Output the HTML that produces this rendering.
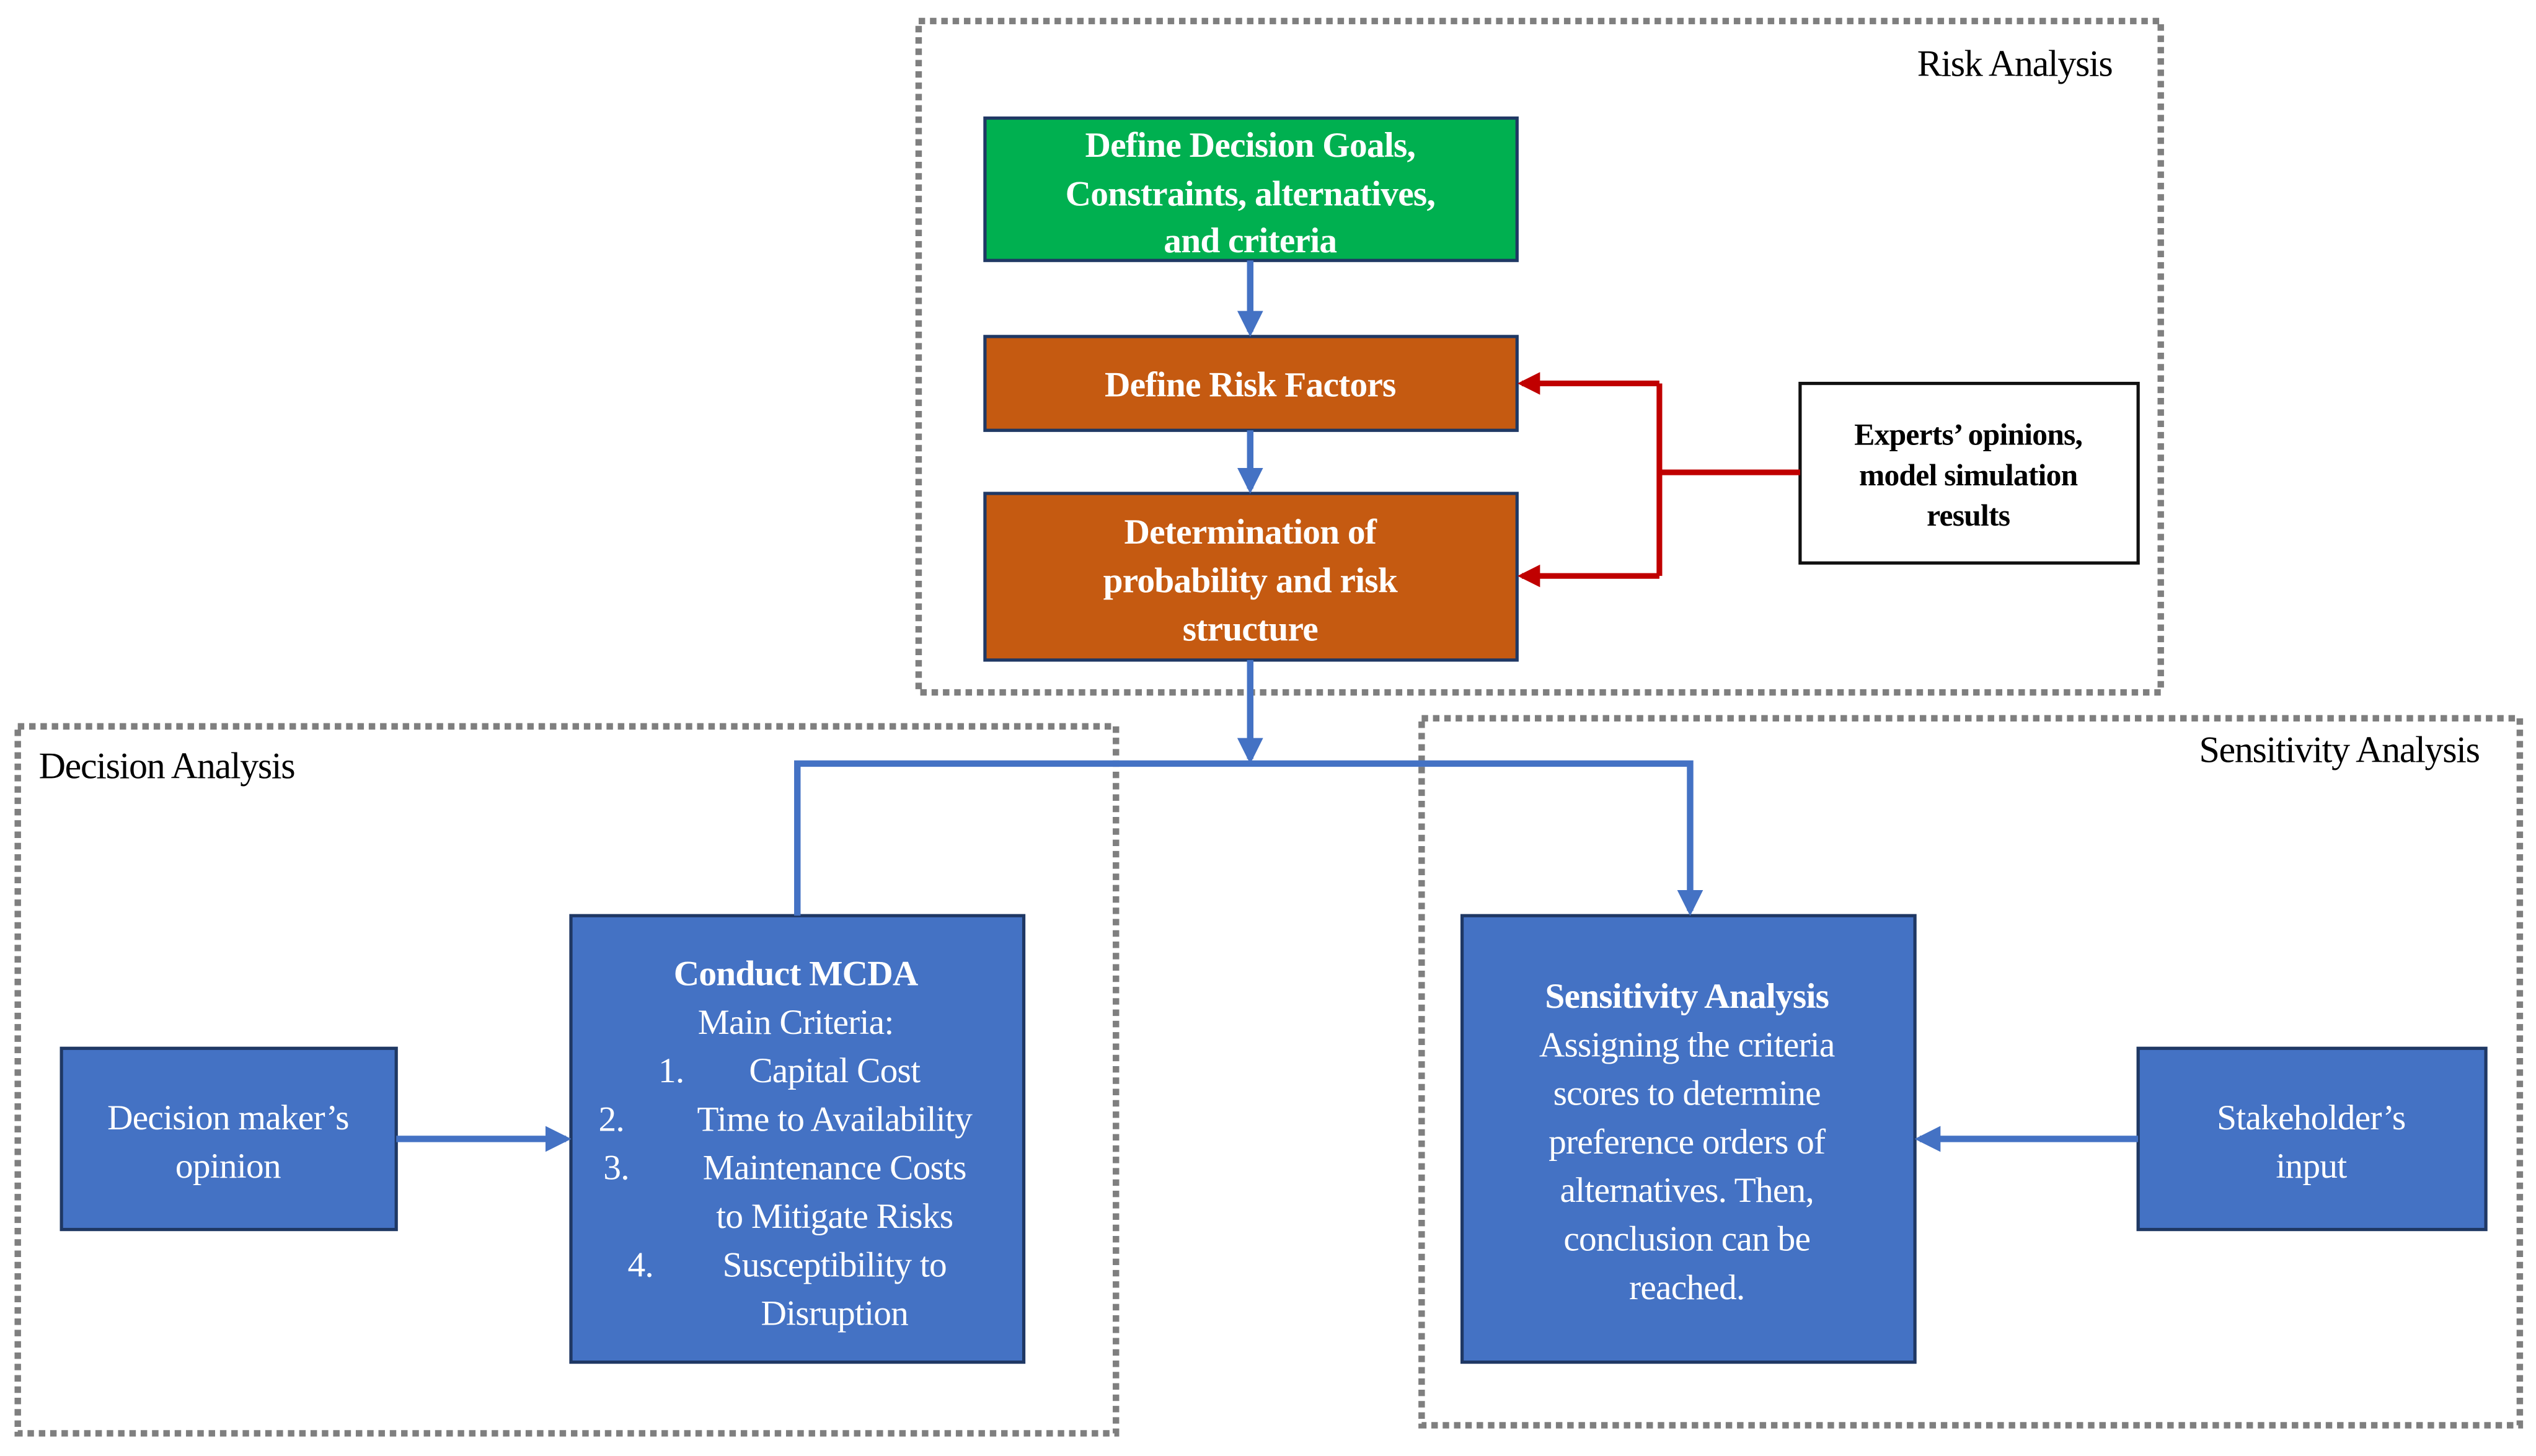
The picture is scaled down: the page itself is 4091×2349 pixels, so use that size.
<!DOCTYPE html>
<html><head><meta charset="utf-8"><style>
html,body{margin:0;padding:0;background:#fff;}
svg{display:block;}
svg text{font-family:"Liberation Serif","Times New Roman",serif !important;}
</style></head><body>
<svg width="4091" height="2349" viewBox="0 0 1568 900" preserveAspectRatio="none" xmlns="http://www.w3.org/2000/svg" font-family="Liberation Serif, serif">
<defs>
<marker id="ab" markerWidth="4" markerHeight="4" refX="3.2" refY="2" orient="auto" markerUnits="strokeWidth"><path d="M0,0 L4,2 L0,4 z" fill="#4472C4"/></marker>
<marker id="ar" markerWidth="4" markerHeight="4" refX="3.2" refY="2" orient="auto" markerUnits="strokeWidth"><path d="M0,0 L4,2 L0,4 z" fill="#C00000"/></marker>
</defs>
<g fill="none" stroke="#7f7f7f" stroke-width="4" stroke-dasharray="4,3">
<rect x="568" y="13" width="768" height="415"/>
<rect x="11" y="449" width="679" height="437"/>
<rect x="879" y="444" width="679" height="437"/>
</g>
<text x="1306" y="47" font-size="23" text-anchor="end" letter-spacing="-0.5">Risk Analysis</text>
<text x="24" y="481" font-size="23" letter-spacing="-0.5">Decision Analysis</text>
<text x="1533" y="471" font-size="23" text-anchor="end" letter-spacing="-0.5">Sensitivity Analysis</text>

<g stroke="#1f3864" stroke-width="2">
<rect x="609" y="73" width="329" height="88" fill="#00B050"/>
<rect x="609" y="208" width="329" height="58" fill="#C55A11"/>
<rect x="609" y="305" width="329" height="103" fill="#C55A11"/>
<rect x="38" y="648" width="207" height="112" fill="#4472C4"/>
<rect x="353" y="566" width="280" height="276" fill="#4472C4"/>
<rect x="904" y="566" width="280" height="276" fill="#4472C4"/>
<rect x="1322" y="648" width="215" height="112" fill="#4472C4"/>
</g>
<rect x="1113" y="237" width="209" height="111" fill="#fff" stroke="#111" stroke-width="2"/>

<g stroke="#4472C4" stroke-width="4" fill="none">
<line x1="773" y1="161" x2="773" y2="205" marker-end="url(#ab)"/>
<line x1="773" y1="266" x2="773" y2="302" marker-end="url(#ab)"/>
<line x1="773" y1="408" x2="773" y2="469" marker-end="url(#ab)"/>
<polyline points="493,566 493,472 1045,472 1045,563" marker-end="url(#ab)"/>
<line x1="245" y1="704" x2="350" y2="704" marker-end="url(#ab)"/>
<line x1="1322" y1="704" x2="1187" y2="704" marker-end="url(#ab)"/>
</g>
<g stroke="#C00000" stroke-width="3.5" fill="none">
<line x1="1113" y1="292" x2="1026" y2="292"/>
<polyline points="1026,237 1026,356"/>
<line x1="1026" y1="237" x2="941" y2="237" marker-end="url(#ar)"/>
<line x1="1026" y1="356" x2="941" y2="356" marker-end="url(#ar)"/>
</g>

<g fill="#fff" font-size="22" font-weight="bold" text-anchor="middle" letter-spacing="-0.3">
<text x="773" y="97">Define Decision Goals,</text>
<text x="773" y="127">Constraints, alternatives,</text>
<text x="773" y="156">and criteria</text>
<text x="773" y="245">Define Risk Factors</text>
<text x="773" y="336">Determination of</text>
<text x="773" y="366">probability and risk</text>
<text x="773" y="396">structure</text>
</g>
<g fill="#000" font-size="19" font-weight="bold" text-anchor="middle" letter-spacing="-0.3">
<text x="1217" y="275">Experts’ opinions,</text>
<text x="1217" y="300">model simulation</text>
<text x="1217" y="325">results</text>
</g>
<g fill="#fff" font-size="22" text-anchor="middle" letter-spacing="-0.3">
<text x="141" y="698">Decision maker’s</text>
<text x="141" y="728">opinion</text>
<text x="1429" y="698">Stakeholder’s</text>
<text x="1429" y="728">input</text>
<text x="492" y="609" font-weight="bold">Conduct MCDA</text>
<text x="492" y="639">Main Criteria:</text>
<text x="415" y="669">1.</text><text x="516" y="669">Capital Cost</text>
<text x="378" y="699">2.</text><text x="516" y="699">Time to Availability</text>
<text x="381" y="729">3.</text><text x="516" y="729">Maintenance Costs</text>
<text x="516" y="759">to Mitigate Risks</text>
<text x="396" y="789">4.</text><text x="516" y="789">Susceptibility to</text>
<text x="516" y="819">Disruption</text>
<text x="1043" y="623" font-weight="bold">Sensitivity Analysis</text>
<text x="1043" y="653">Assigning the criteria</text>
<text x="1043" y="683">scores to determine</text>
<text x="1043" y="713">preference orders of</text>
<text x="1043" y="743">alternatives. Then,</text>
<text x="1043" y="773">conclusion can be</text>
<text x="1043" y="803">reached.</text>
</g>
</svg>
</body></html>
